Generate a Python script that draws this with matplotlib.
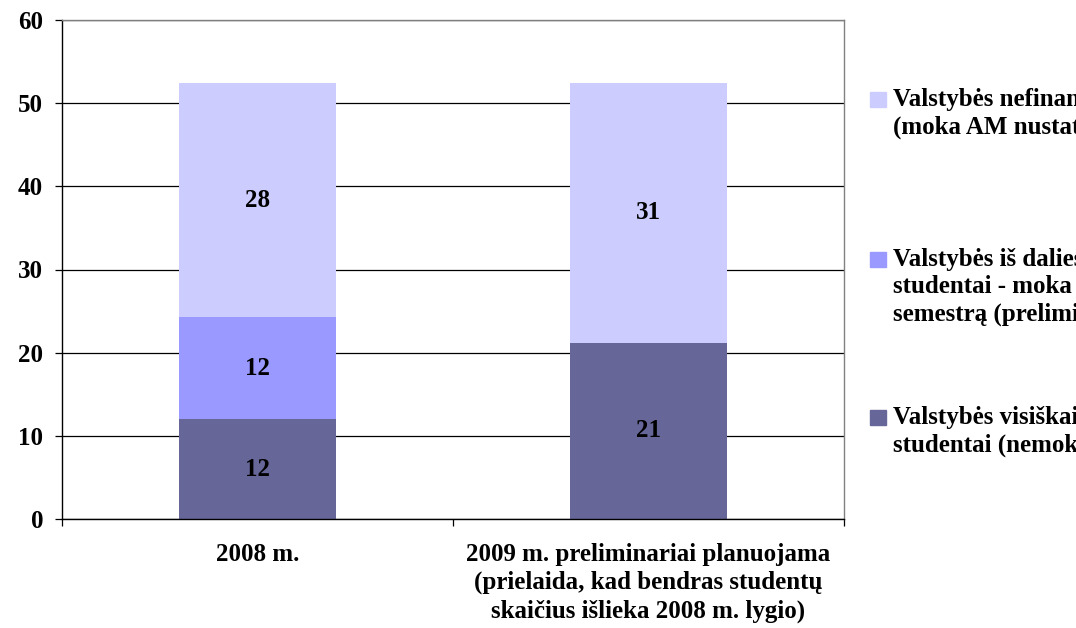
import matplotlib
matplotlib.use("Agg")
import matplotlib.pyplot as plt
from matplotlib.patches import Rectangle

plt.rcParams['font.family'] = ['Liberation Serif', 'DejaVu Serif']
plt.rcParams['font.weight'] = 'bold'

# duomenys
categories = ["2008 m.",
              "2009 m. preliminariai planuojama\n(prielaida, kad bendras studentų\nskaičius išlieka 2008 m. lygio)"]
visiskai = [12.0, 21.2]      # valstybės visiškai finansuojami
is_dalies = [12.3, 0.0]      # valstybės iš dalies finansuojami
nefinans = [28.1, 31.2]      # valstybės nefinansuojami
series_names = [
    "Valstybės nefinansuojami studentai\n(moka AM nustatytą kainą)",
    "Valstybės iš dalies finansuojami\nstudentai - moka 500 Lt už\nsemestrą (preliminariai)",
    "Valstybės visiškai finansuojami\nstudentai (nemoka)",
]
colors = ["#CCCCFF", "#9999FF", "#666699"]
yticks = [0, 10, 20, 30, 40, 50, 60]

FS = 18

fig = plt.figure(figsize=(10.76, 6.28), dpi=100)
ax = fig.add_axes([62/1076, 1-519/628, (844-62)/1076, (519-20)/628])

x = [0.5, 1.5]
w = 0.4
bottom2 = [a + b for a, b in zip(visiskai, is_dalies)]
ax.bar(x, visiskai, w, color=colors[2], zorder=2)
ax.bar(x, is_dalies, w, bottom=visiskai, color=colors[1], zorder=2)
ax.bar(x, nefinans, w, bottom=bottom2, color=colors[0], zorder=2)

# reikšmių etiketės
for i in range(len(x)):
    segs = [(0, visiskai[i]), (visiskai[i], is_dalies[i]), (bottom2[i], nefinans[i])]
    for b, v in segs:
        if v > 0:
            ax.text(x[i], b + v/2, "%.0f" % v, ha="center", va="center",
                    fontsize=FS, fontweight="bold", color="black", zorder=3)

ax.set_xlim(0, 2)
ax.set_ylim(0, 60)
ax.set_yticks(yticks)
ax.set_yticklabels([str(t) for t in yticks])
ax.yaxis.grid(True, color="black", linewidth=0.9, zorder=0)
ax.set_axisbelow(True)
ax.tick_params(axis="y", length=5, width=0.9, pad=8.6, labelsize=FS)

ax.set_xticks([0, 1, 2])
ax.set_xticklabels([])
ax.set_xticks(x, minor=True)
ax.set_xticklabels(categories, minor=True, fontsize=FS, fontweight="bold",
                   linespacing=1.3)
ax.tick_params(axis="x", which="major", length=5, width=0.9)
ax.tick_params(axis="x", which="minor", length=0, pad=17)

ax.spines["left"].set_color("black")
ax.spines["bottom"].set_color("black")
ax.spines["top"].set_color("#808080")
ax.spines["right"].set_color("#808080")
for s in ax.spines.values():
    s.set_linewidth(1.0)

# legenda
leg_tops = [92, 252, 410]
for k, top in enumerate(leg_tops):
    fig.patches.append(Rectangle((870/1076, 1-(top+15)/628), 16/1076, 15/628,
                                 transform=fig.transFigure, color=colors[k], figure=fig))
    fig.text(893/1076, 1-(top-4)/628, series_names[k], ha="left", va="top",
             fontsize=FS, fontweight="bold", linespacing=1.23)

fig.savefig("out.png", dpi=100)
